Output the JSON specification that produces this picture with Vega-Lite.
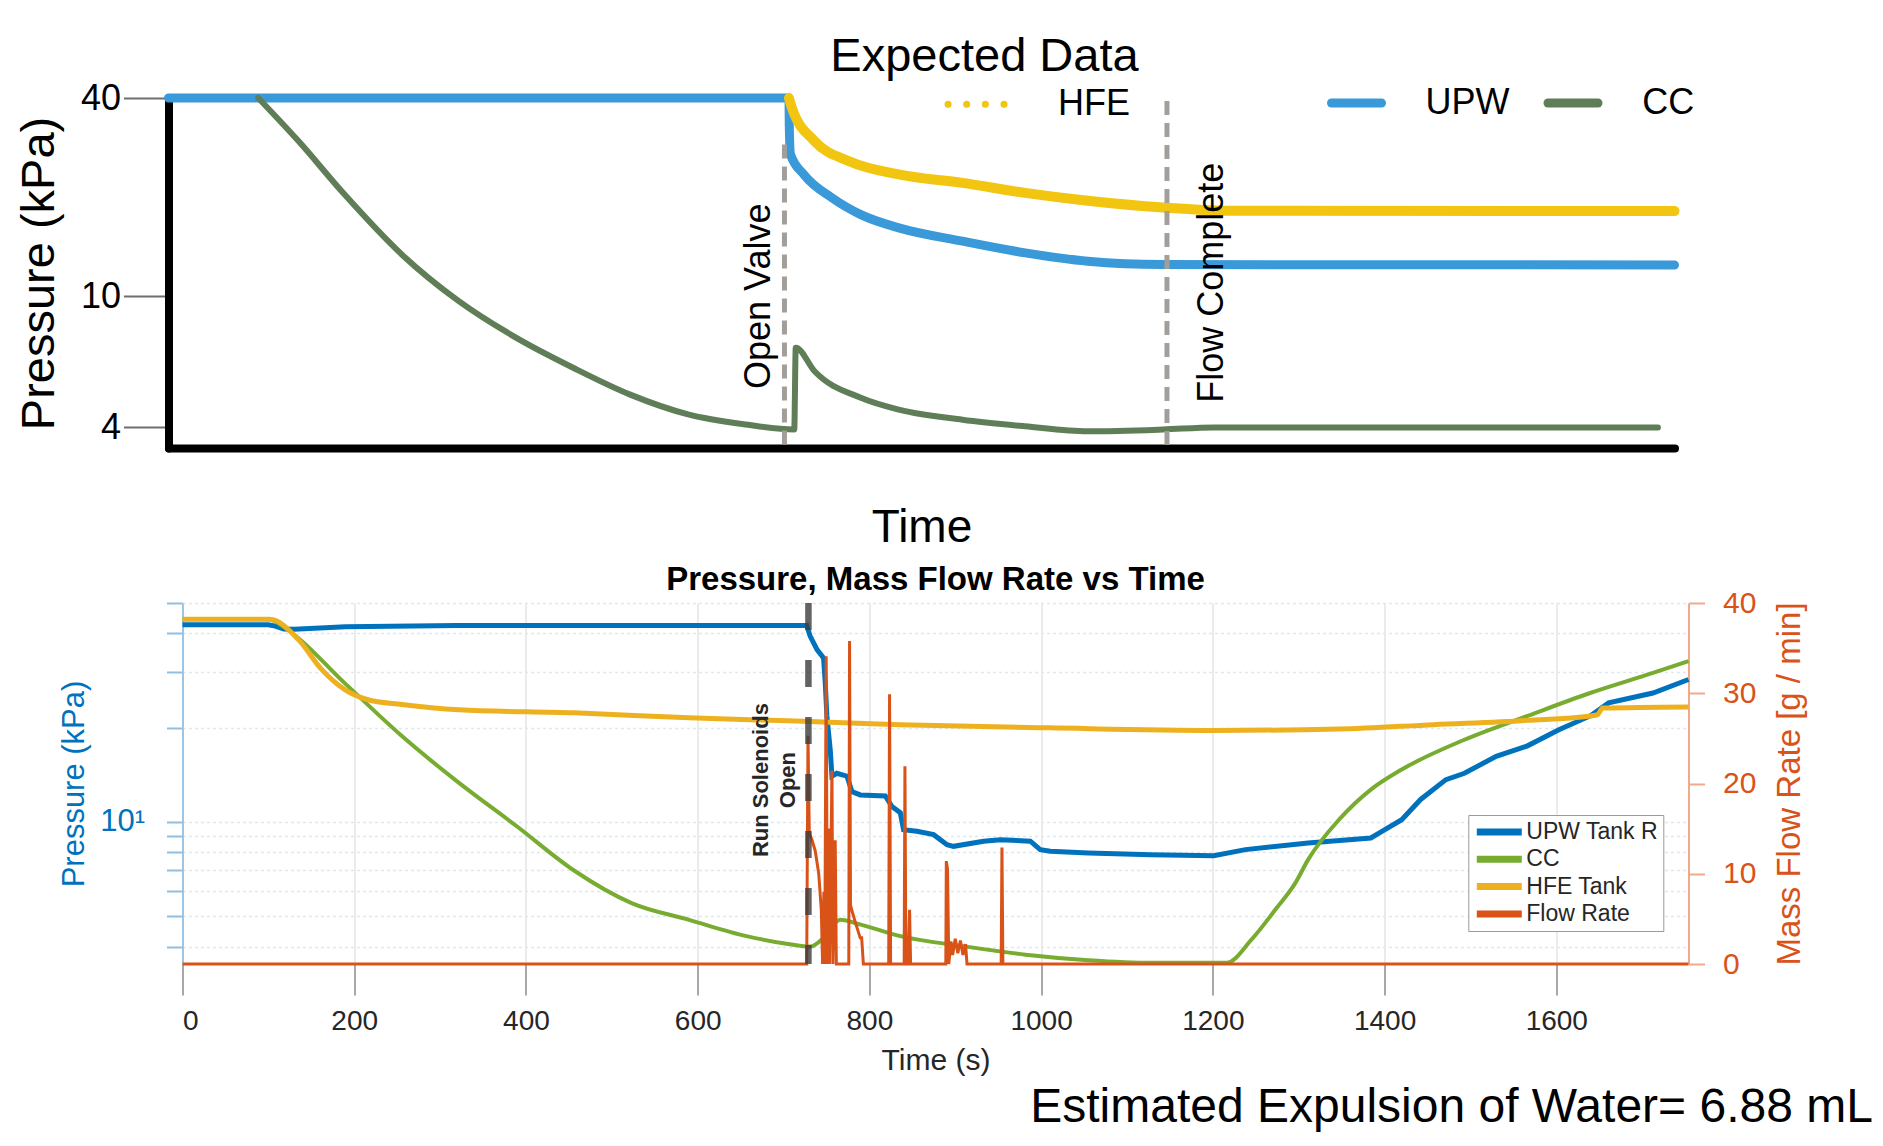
{
  "$schema": "https://vega.github.io/schema/vega-lite/v6.json",
  "background": "white",
  "padding": {"left": 14.5, "top": 32, "right": 5, "bottom": 5},
  "autosize": {"type": "pad"},
  "config": {
    "font": "Liberation Sans",
    "view": {"stroke": null},
    "title": {"font": "Liberation Sans"},
    "axis": {"labelFont": "Liberation Sans", "titleFont": "Liberation Sans"},
    "legend": {"labelFont": "Liberation Sans"}
  },
  "title": {"text": "Estimated Expulsion of Water= 6.88 mL", "orient": "bottom", "anchor": "end", "fontSize": 48, "fontWeight": "normal", "color": "#000000", "offset": 9, "dx": 66},
  "spacing": 14,
  "resolve": {"scale": {"color": "independent"}, "legend": {"color": "independent"}},
  "datasets": {
    "expected": [
      {"series": "UPW", "u": 0, "v": 40},
      {"series": "UPW", "u": 41.2, "v": 40},
      {"series": "UPW", "u": 41.22, "v": 33},
      {"series": "UPW", "u": 41.3, "v": 27},
      {"series": "UPW", "u": 42.2, "v": 23.4},
      {"series": "UPW", "u": 44.06, "v": 19.9},
      {"series": "UPW", "u": 45.97, "v": 17.7},
      {"series": "UPW", "u": 48.56, "v": 16.1},
      {"series": "UPW", "u": 52.72, "v": 14.7},
      {"series": "UPW", "u": 56.88, "v": 13.55},
      {"series": "UPW", "u": 61.04, "v": 12.78},
      {"series": "UPW", "u": 66.03, "v": 12.49},
      {"series": "UPW", "u": 100, "v": 12.45},
      {"series": "HFE", "u": 41.2, "v": 40},
      {"series": "HFE", "u": 41.4, "v": 37.3},
      {"series": "HFE", "u": 42.9, "v": 29.6},
      {"series": "HFE", "u": 45.2, "v": 25.7},
      {"series": "HFE", "u": 48.56, "v": 23.4},
      {"series": "HFE", "u": 52.72, "v": 22.1},
      {"series": "HFE", "u": 56.88, "v": 20.6},
      {"series": "HFE", "u": 61.04, "v": 19.5},
      {"series": "HFE", "u": 66.03, "v": 18.6},
      {"series": "HFE", "u": 70.2, "v": 18.2},
      {"series": "HFE", "u": 100, "v": 18.14},
      {"series": "CC", "u": 5.96, "v": 40},
      {"series": "CC", "u": 8.63, "v": 29.6},
      {"series": "CC", "u": 11.68, "v": 20.4},
      {"series": "CC", "u": 15.49, "v": 13.4},
      {"series": "CC", "u": 19.3, "v": 9.65},
      {"series": "CC", "u": 23.1, "v": 7.48},
      {"series": "CC", "u": 26.9, "v": 6.06},
      {"series": "CC", "u": 30.7, "v": 5.02},
      {"series": "CC", "u": 34.5, "v": 4.38},
      {"series": "CC", "u": 38.35, "v": 4.08},
      {"series": "CC", "u": 41.55, "v": 3.94},
      {"series": "CC", "u": 41.65, "v": 6.98},
      {"series": "CC", "u": 42.9, "v": 5.92},
      {"series": "CC", "u": 45.97, "v": 4.92},
      {"series": "CC", "u": 48.56, "v": 4.52},
      {"series": "CC", "u": 52.72, "v": 4.22},
      {"series": "CC", "u": 56.88, "v": 4.03},
      {"series": "CC", "u": 61.04, "v": 3.89},
      {"series": "CC", "u": 66.03, "v": 3.94},
      {"series": "CC", "u": 69.4, "v": 4.0},
      {"series": "CC", "u": 98.9, "v": 4.0}
    ],
    "top_rules": [
      {"u": 40.9, "v": 28.9, "v2": 3.38},
      {"u": 66.3, "v": 39.2, "v2": 3.36}
    ],
    "top_text": [
      {"u": 39.2, "v": 10.0, "label": "Open Valve"},
      {"u": 69.3, "v": 11.0, "label": "Flow Complete"}
    ],
    "upw": [
      {"series": "UPW Tank R", "t": 0, "p": 42.6},
      {"series": "UPW Tank R", "t": 100, "p": 42.6},
      {"series": "UPW Tank R", "t": 108, "p": 42.2},
      {"series": "UPW Tank R", "t": 118, "p": 41.3},
      {"series": "UPW Tank R", "t": 130, "p": 41.2},
      {"series": "UPW Tank R", "t": 190, "p": 42.0},
      {"series": "UPW Tank R", "t": 320, "p": 42.4},
      {"series": "UPW Tank R", "t": 727, "p": 42.4},
      {"series": "UPW Tank R", "t": 731, "p": 39.2},
      {"series": "UPW Tank R", "t": 739, "p": 35.5},
      {"series": "UPW Tank R", "t": 746.6, "p": 33.4},
      {"series": "UPW Tank R", "t": 748.6, "p": 27.8},
      {"series": "UPW Tank R", "t": 750.5, "p": 21.8},
      {"series": "UPW Tank R", "t": 754.4, "p": 17.0},
      {"series": "UPW Tank R", "t": 756.4, "p": 14.0},
      {"series": "UPW Tank R", "t": 762, "p": 14.3},
      {"series": "UPW Tank R", "t": 773.9, "p": 14.0},
      {"series": "UPW Tank R", "t": 779.7, "p": 12.5},
      {"series": "UPW Tank R", "t": 789.3, "p": 12.2},
      {"series": "UPW Tank R", "t": 818.5, "p": 12.1},
      {"series": "UPW Tank R", "t": 826.3, "p": 11.2},
      {"series": "UPW Tank R", "t": 836, "p": 10.7},
      {"series": "UPW Tank R", "t": 839.8, "p": 9.45},
      {"series": "UPW Tank R", "t": 855.4, "p": 9.34},
      {"series": "UPW Tank R", "t": 874.8, "p": 9.11},
      {"series": "UPW Tank R", "t": 890.4, "p": 8.46},
      {"series": "UPW Tank R", "t": 898, "p": 8.36},
      {"series": "UPW Tank R", "t": 933, "p": 8.68},
      {"series": "UPW Tank R", "t": 952.5, "p": 8.78},
      {"series": "UPW Tank R", "t": 987.4, "p": 8.68},
      {"series": "UPW Tank R", "t": 999, "p": 8.16},
      {"series": "UPW Tank R", "t": 1010.7, "p": 8.06},
      {"series": "UPW Tank R", "t": 1055, "p": 7.96},
      {"series": "UPW Tank R", "t": 1128, "p": 7.86},
      {"series": "UPW Tank R", "t": 1201, "p": 7.8},
      {"series": "UPW Tank R", "t": 1238, "p": 8.16},
      {"series": "UPW Tank R", "t": 1311, "p": 8.57},
      {"series": "UPW Tank R", "t": 1384, "p": 8.89},
      {"series": "UPW Tank R", "t": 1396, "p": 9.3},
      {"series": "UPW Tank R", "t": 1420, "p": 10.17},
      {"series": "UPW Tank R", "t": 1442, "p": 11.8},
      {"series": "UPW Tank R", "t": 1471.5, "p": 13.65},
      {"series": "UPW Tank R", "t": 1493, "p": 14.3},
      {"series": "UPW Tank R", "t": 1530, "p": 16.2},
      {"series": "UPW Tank R", "t": 1566.5, "p": 17.5},
      {"series": "UPW Tank R", "t": 1603, "p": 19.7},
      {"series": "UPW Tank R", "t": 1639.5, "p": 21.8},
      {"series": "UPW Tank R", "t": 1661, "p": 24.0},
      {"series": "UPW Tank R", "t": 1712.6, "p": 25.8},
      {"series": "UPW Tank R", "t": 1754, "p": 28.5}
    ],
    "cc": [
      {"series": "CC", "t": 0, "p": 44.4},
      {"series": "CC", "t": 100, "p": 44.4},
      {"series": "CC", "t": 121.7, "p": 41.2},
      {"series": "CC", "t": 188.6, "p": 27.8},
      {"series": "CC", "t": 255.5, "p": 18.8},
      {"series": "CC", "t": 322.4, "p": 13.3},
      {"series": "CC", "t": 389.3, "p": 9.69},
      {"series": "CC", "t": 456, "p": 7.0},
      {"series": "CC", "t": 523, "p": 5.51},
      {"series": "CC", "t": 590, "p": 4.87},
      {"series": "CC", "t": 657, "p": 4.32},
      {"series": "CC", "t": 700, "p": 4.1},
      {"series": "CC", "t": 731, "p": 4.0},
      {"series": "CC", "t": 748, "p": 4.3},
      {"series": "CC", "t": 766, "p": 4.87},
      {"series": "CC", "t": 790, "p": 4.7},
      {"series": "CC", "t": 836, "p": 4.32},
      {"series": "CC", "t": 910, "p": 4.01},
      {"series": "CC", "t": 982, "p": 3.77},
      {"series": "CC", "t": 1055, "p": 3.62},
      {"series": "CC", "t": 1128, "p": 3.55},
      {"series": "CC", "t": 1216, "p": 3.55},
      {"series": "CC", "t": 1245, "p": 4.21},
      {"series": "CC", "t": 1274, "p": 5.3},
      {"series": "CC", "t": 1296, "p": 6.38},
      {"series": "CC", "t": 1311, "p": 7.58},
      {"series": "CC", "t": 1347, "p": 10.17},
      {"series": "CC", "t": 1384, "p": 12.68},
      {"series": "CC", "t": 1420, "p": 14.7},
      {"series": "CC", "t": 1493, "p": 18.3},
      {"series": "CC", "t": 1566.5, "p": 21.8},
      {"series": "CC", "t": 1639.5, "p": 25.8},
      {"series": "CC", "t": 1712.6, "p": 29.9},
      {"series": "CC", "t": 1754, "p": 32.6}
    ],
    "hfe": [
      {"series": "HFE Tank", "t": 0, "p": 44.4},
      {"series": "HFE Tank", "t": 101.7, "p": 44.4},
      {"series": "HFE Tank", "t": 135, "p": 38.2},
      {"series": "HFE Tank", "t": 162, "p": 30.7},
      {"series": "HFE Tank", "t": 188.6, "p": 26.5},
      {"series": "HFE Tank", "t": 215, "p": 24.6},
      {"series": "HFE Tank", "t": 255.5, "p": 23.7},
      {"series": "HFE Tank", "t": 322, "p": 22.8},
      {"series": "HFE Tank", "t": 456, "p": 22.3},
      {"series": "HFE Tank", "t": 590, "p": 21.5},
      {"series": "HFE Tank", "t": 723.6, "p": 20.96},
      {"series": "HFE Tank", "t": 836, "p": 20.45},
      {"series": "HFE Tank", "t": 1010, "p": 19.97},
      {"series": "HFE Tank", "t": 1201, "p": 19.6},
      {"series": "HFE Tank", "t": 1347, "p": 19.8},
      {"series": "HFE Tank", "t": 1457, "p": 20.45},
      {"series": "HFE Tank", "t": 1566.5, "p": 21.1},
      {"series": "HFE Tank", "t": 1639.5, "p": 21.8},
      {"series": "HFE Tank", "t": 1648, "p": 22.0},
      {"series": "HFE Tank", "t": 1654, "p": 23.1},
      {"series": "HFE Tank", "t": 1754, "p": 23.3}
    ],
    "flow": [
      {"series": "Flow Rate", "t": 0, "f": 0},
      {"series": "Flow Rate", "t": 727, "f": 0},
      {"series": "Flow Rate", "t": 728.5, "f": 25.3},
      {"series": "Flow Rate", "t": 730, "f": 14.5},
      {"series": "Flow Rate", "t": 733, "f": 13.8},
      {"series": "Flow Rate", "t": 737, "f": 12.5},
      {"series": "Flow Rate", "t": 741, "f": 10},
      {"series": "Flow Rate", "t": 744, "f": 6},
      {"series": "Flow Rate", "t": 745.5, "f": 0},
      {"series": "Flow Rate", "t": 747, "f": 8},
      {"series": "Flow Rate", "t": 748, "f": 0},
      {"series": "Flow Rate", "t": 749.7, "f": 34.1},
      {"series": "Flow Rate", "t": 751, "f": 0},
      {"series": "Flow Rate", "t": 752.5, "f": 15},
      {"series": "Flow Rate", "t": 753.5, "f": 0},
      {"series": "Flow Rate", "t": 755, "f": 10},
      {"series": "Flow Rate", "t": 756.4, "f": 21.4},
      {"series": "Flow Rate", "t": 757.5, "f": 0},
      {"series": "Flow Rate", "t": 759, "f": 8},
      {"series": "Flow Rate", "t": 760.2, "f": 13.7},
      {"series": "Flow Rate", "t": 761.5, "f": 0},
      {"series": "Flow Rate", "t": 776, "f": 0},
      {"series": "Flow Rate", "t": 776.9, "f": 35.8},
      {"series": "Flow Rate", "t": 778, "f": 6.5},
      {"series": "Flow Rate", "t": 779.7, "f": 5.9},
      {"series": "Flow Rate", "t": 784, "f": 4.5},
      {"series": "Flow Rate", "t": 789.3, "f": 2.9},
      {"series": "Flow Rate", "t": 791, "f": 2.9},
      {"series": "Flow Rate", "t": 793, "f": 0},
      {"series": "Flow Rate", "t": 822.5, "f": 0},
      {"series": "Flow Rate", "t": 823.5, "f": 29.9},
      {"series": "Flow Rate", "t": 824.7, "f": 0},
      {"series": "Flow Rate", "t": 840.5, "f": 0},
      {"series": "Flow Rate", "t": 841.4, "f": 21.9},
      {"series": "Flow Rate", "t": 842.5, "f": 0},
      {"series": "Flow Rate", "t": 845, "f": 0},
      {"series": "Flow Rate", "t": 846.8, "f": 6.0},
      {"series": "Flow Rate", "t": 848, "f": 0},
      {"series": "Flow Rate", "t": 889, "f": 0},
      {"series": "Flow Rate", "t": 889.6, "f": 11.4},
      {"series": "Flow Rate", "t": 891, "f": 10.5},
      {"series": "Flow Rate", "t": 892.5, "f": 0},
      {"series": "Flow Rate", "t": 895, "f": 2.5},
      {"series": "Flow Rate", "t": 897, "f": 1},
      {"series": "Flow Rate", "t": 900, "f": 2.8},
      {"series": "Flow Rate", "t": 903, "f": 1.2},
      {"series": "Flow Rate", "t": 906, "f": 2.6},
      {"series": "Flow Rate", "t": 909, "f": 1},
      {"series": "Flow Rate", "t": 912, "f": 2.2},
      {"series": "Flow Rate", "t": 913.7, "f": 0},
      {"series": "Flow Rate", "t": 953.5, "f": 0},
      {"series": "Flow Rate", "t": 954.4, "f": 12.9},
      {"series": "Flow Rate", "t": 955.5, "f": 0},
      {"series": "Flow Rate", "t": 1754, "f": 0}
    ],
    "solenoid": [{"t": 729}],
    "solenoid_text": [{"t": 673.5, "p": 13.6, "label": ["Run Solenoids", "Open"]}]
  },
  "vconcat": [
    {
      "width": 1506,
      "height": 350,
      "title": {"text": "Expected Data", "fontSize": 47, "fontWeight": "normal", "color": "#000000", "anchor": "middle", "dx": 49, "offset": -8},
      "encoding": {
        "x": {"field": "u", "type": "quantitative",
          "scale": {"domain": [0, 100], "range": [-14, 1492], "nice": false, "zero": false},
          "axis": {"title": "Time", "titleFontSize": 46, "titleFontWeight": "normal", "titleColor": "#000000", "titlePadding": 57,
            "labels": false, "ticks": false, "grid": false, "domainColor": "#000000", "domainWidth": 8, "domainCap": "round"}},
        "y": {"field": "v", "type": "quantitative",
          "scale": {"type": "log", "domain": [3.463, 40], "nice": false},
          "axis": {"title": "Pressure (kPa)", "titleFontSize": 47, "titleFontWeight": "normal", "titleColor": "#000000", "titlePadding": 17,
            "values": [4, 10, 40], "format": "d", "labelFontSize": 36, "labelColor": "#000000", "labelPadding": 3,
            "tickSize": 45, "tickColor": "#6E6E6E", "tickWidth": 2, "domainColor": "#000000", "domainWidth": 8, "domainCap": "round",
            "offset": 14, "grid": false, "labelOverlap": false}}
      },
      "layer": [
        {
          "data": {"name": "expected"},
          "transform": [{"filter": "datum.series === 'UPW'"}],
          "mark": {"type": "line", "strokeWidth": 9, "strokeCap": "round", "strokeJoin": "round", "interpolate": "monotone"},
          "encoding": {"color": {"field": "series", "type": "nominal", "scale": {"domain": ["UPW"], "range": ["#3A99D9"]},
            "legend": {"title": null, "orient": "none", "legendX": 1144.5, "legendY": -24.5, "symbolType": "stroke", "symbolSize": 2500,
              "symbolStrokeWidth": 9, "labelFontSize": 36, "labelOffset": 39.5, "labelColor": "#000000", "padding": 0,
              "encode": {"symbols": {"update": {"strokeCap": {"value": "round"}}}}}}}
        },
        {
          "data": {"name": "expected"},
          "transform": [{"filter": "datum.series === 'HFE'"}],
          "mark": {"type": "line", "strokeWidth": 10, "strokeCap": "round", "strokeJoin": "round", "interpolate": "monotone"},
          "encoding": {"color": {"field": "series", "type": "nominal", "scale": {"domain": ["HFE"], "range": ["#F2C511"]},
            "legend": {"title": null, "orient": "none", "legendX": 762, "legendY": -25.2, "symbolType": "stroke", "symbolSize": 3136,
              "symbolStrokeWidth": 7, "symbolDash": [0.1, 18.55], "labelFontSize": 36, "labelOffset": 50.5, "labelColor": "#000000", "padding": 0,
              "encode": {"symbols": {"update": {"strokeCap": {"value": "round"}}}}}}}
        },
        {
          "data": {"name": "expected"},
          "transform": [{"filter": "datum.series === 'CC'"}],
          "mark": {"type": "line", "strokeWidth": 6, "strokeCap": "round", "strokeJoin": "round", "interpolate": "monotone"},
          "encoding": {"color": {"field": "series", "type": "nominal", "scale": {"domain": ["CC"], "range": ["#5F7E57"]},
            "legend": {"title": null, "orient": "none", "legendX": 1361, "legendY": -24.5, "symbolType": "stroke", "symbolSize": 2500,
              "symbolStrokeWidth": 9, "labelFontSize": 36, "labelOffset": 39.7, "labelColor": "#000000", "padding": 0,
              "encode": {"symbols": {"update": {"strokeCap": {"value": "round"}}}}}}}
        },
        {
          "data": {"name": "top_rules"},
          "mark": {"type": "rule", "strokeDash": [14, 8], "strokeWidth": 5, "color": "#A39E99"},
          "encoding": {"y2": {"field": "v2"}}
        },
        {
          "data": {"name": "top_text"},
          "mark": {"type": "text", "angle": 270, "fontSize": 36, "align": "center", "baseline": "middle", "color": "#000000"},
          "encoding": {"text": {"field": "label"}}
        }
      ],
      "resolve": {"scale": {"color": "independent"}}
    },
    {
      "width": 1506,
      "height": 361,
      "title": {"text": "Pressure, Mass Flow Rate vs Time", "fontSize": 33, "fontWeight": "bold", "color": "#000000", "anchor": "middle", "offset": -10},
      "encoding": {
        "x": {"field": "t", "type": "quantitative",
          "scale": {"domain": [0, 1754], "nice": false, "zero": false},
          "axis": {"title": "Time (s)", "values": [0, 200, 400, 600, 800, 1000, 1200, 1400, 1600], "format": "d", "grid": true, "gridColor": "#E4E4E4", "gridWidth": 1.5,
            "domain": false, "tickSize": 31, "tickColor": "#A8A8A8", "tickWidth": 2, "labelFontSize": 28, "labelColor": "#262626", "labelPadding": 12,
            "titleFontSize": 30, "titleFontWeight": "normal", "titleColor": "#262626", "titlePadding": 10}}
      },
      "layer": [
        {
          "encoding": {
            "y": {"field": "p", "type": "quantitative",
              "scale": {"type": "log", "domain": [3.52, 50], "nice": false},
              "axis": {"title": "Pressure (kPa)", "titleColor": "#0072BD", "titleFontSize": 31, "titleFontWeight": "normal", "titlePadding": 9,
                "values": [4, 5, 6, 7, 8, 9, 10, 20, 30, 40, 50], "labelExpr": "datum.value == 10 ? '10¹' : ''", "labelOverlap": false, "labelFlush": false,
                "labelColor": "#0072BD", "labelFontSize": 31, "labelPadding": 22, "tickSize": 16, "tickColor": "#8FBFE3", "tickWidth": 2,
                "domainColor": "#9DC6E6", "domainWidth": 2, "grid": true, "gridColor": "#DDE8F0", "gridDash": [3, 3], "gridWidth": 1.5}}
          },
          "layer": [
            {
              "data": {"name": "upw"},
              "mark": {"type": "line", "strokeWidth": 5},
              "encoding": {"color": {"field": "series", "type": "nominal",
                "scale": {"domain": ["UPW Tank R", "CC", "HFE Tank", "Flow Rate"], "range": ["#0072BD", "#77AC30", "#EDB120", "#D95319"]},
                "legend": {"title": null, "orient": "none", "legendX": 1285.8, "legendY": 212, "symbolType": "stroke", "symbolSize": 2025,
                  "symbolStrokeWidth": 7, "labelFontSize": 23, "labelOffset": 1, "labelColor": "#262626", "padding": 5, "rowPadding": 3.3,
                  "clipHeight": 24, "strokeColor": "#9A9A9A", "fillColor": "#FFFFFF"}}}
            },
            {
              "data": {"name": "cc"},
              "mark": {"type": "line", "strokeWidth": 4, "interpolate": "monotone"},
              "encoding": {"color": {"field": "series", "type": "nominal"}}
            },
            {
              "data": {"name": "hfe"},
              "mark": {"type": "line", "strokeWidth": 5, "interpolate": "monotone"},
              "encoding": {"color": {"field": "series", "type": "nominal"}}
            },
            {
              "data": {"name": "solenoid_text"},
              "mark": {"type": "text", "angle": 270, "fontSize": 22, "fontWeight": "bold", "align": "center", "baseline": "middle", "lineHeight": 27, "color": "#262626"},
              "encoding": {"text": {"field": "label"}}
            }
          ]
        },
        {
          "data": {"name": "flow"},
          "mark": {"type": "line", "strokeWidth": 3},
          "encoding": {
            "y": {"field": "f", "type": "quantitative",
              "scale": {"domain": [0, 40], "nice": false, "zero": false},
              "axis": {"orient": "right", "title": "Mass Flow Rate [g / min]", "titleColor": "#D95319", "titleFontSize": 33, "titleFontWeight": "normal",
                "titleAngle": 270, "titleBaseline": "top", "titlePadding": 18,
                "values": [0, 10, 20, 30, 40], "labelColor": "#D95319", "labelFontSize": 30, "labelPadding": 18, "tickSize": 16,
                "tickColor": "#F0A98A", "tickWidth": 2, "domainColor": "#F0A98A", "domainWidth": 2, "grid": false}},
            "color": {"field": "series", "type": "nominal"}
          }
        },
        {
          "data": {"name": "solenoid"},
          "mark": {"type": "rule", "strokeDash": [27, 30], "strokeWidth": 6.5, "color": "#3C3C3C", "opacity": 0.8}
        }
      ],
      "resolve": {"scale": {"y": "independent"}}
    }
  ]
}
